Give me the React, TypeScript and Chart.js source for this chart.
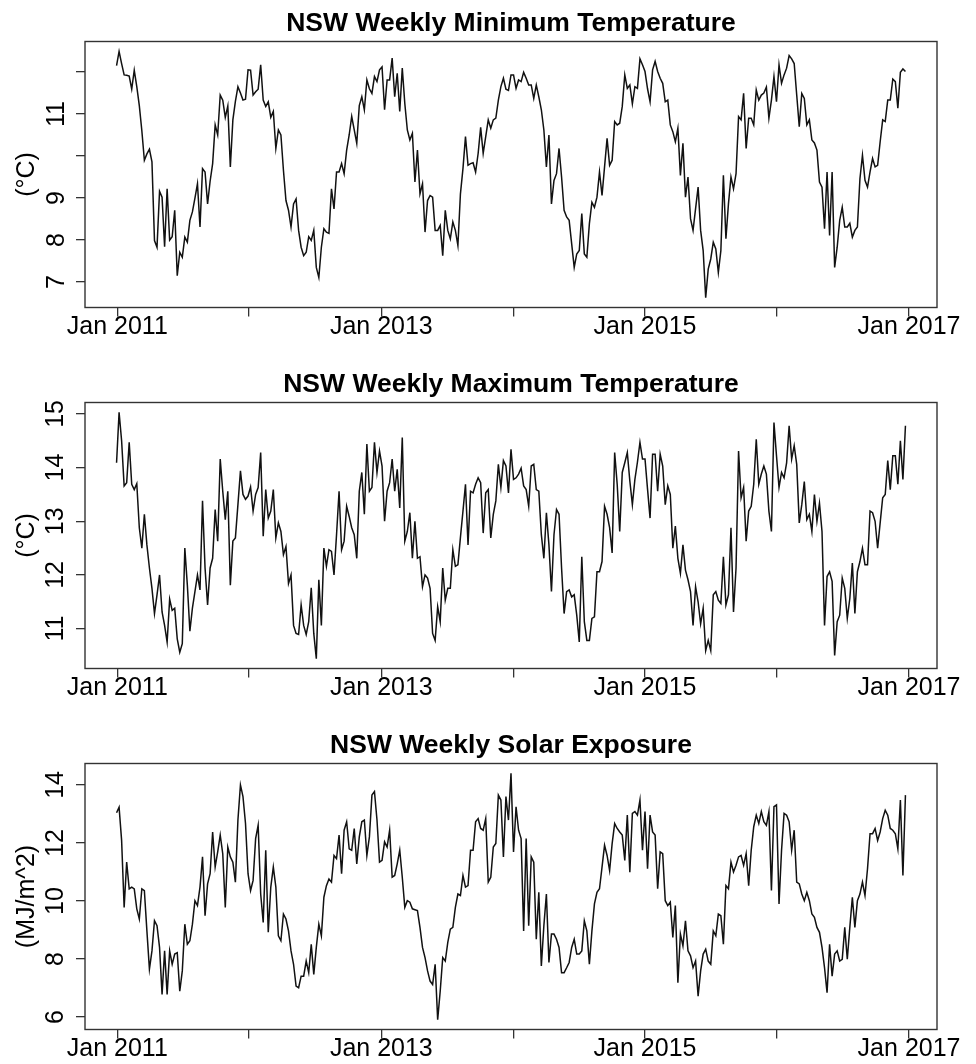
import React, { useEffect, useRef } from 'react';
import { Chart, registerables } from 'chart.js';

Chart.register(...registerables);

const FONT = '"Liberation Sans", Arial, Helvetica, sans-serif';

// Weekly NSW values, first week starting 30 Dec 2010
const MIN_TEMP = [
  12.15, 12.49, 12.2, 11.93, 11.92, 11.9, 11.59, 12.04, 11.65, 11.2,
  10.6, 9.9, 10.05, 10.16, 9.86, 7.99, 7.83, 9.16, 9.02, 7.84,
  9.22, 8.0, 8.08, 8.71, 7.15, 7.71, 7.59, 8.07, 7.95, 8.47,
  8.67, 9.0, 9.34, 8.31, 9.7, 9.62, 8.86, 9.4, 9.82, 10.74,
  10.5, 11.45, 11.33, 10.92, 11.19, 9.74, 10.86, 11.3, 11.65, 11.5,
  11.33, 11.35, 12.05, 12.04, 11.45, 11.53, 11.59, 12.17, 11.33, 11.18,
  11.29, 10.92, 11.06, 10.18, 10.62, 10.5, 9.66, 8.94, 8.71, 8.31,
  8.86, 8.98, 8.23, 7.83, 7.63, 7.71, 8.08, 7.99, 8.23, 7.35,
  7.11, 7.83, 8.27, 8.19, 8.16, 9.22, 8.74, 9.62, 9.62, 9.82,
  9.58, 10.14, 10.5, 10.94, 10.62, 10.3, 11.2, 11.41, 11.1, 11.81,
  11.6, 11.49, 11.89, 11.77, 12.05, 12.12, 11.1, 11.81, 11.81, 12.33,
  11.41, 11.97, 11.06, 12.09, 11.25, 10.62, 10.38, 10.54, 9.38, 10.14,
  9.1, 9.34, 8.19, 8.94, 9.06, 9.02, 8.23, 8.23, 8.35, 7.63,
  8.71, 8.23, 8.03, 8.43, 8.23, 7.87, 9.1, 9.7, 10.46, 9.78,
  9.82, 9.84, 9.62, 10.06, 10.68, 10.06, 10.46, 10.86, 10.66, 10.86,
  10.9, 11.33, 11.65, 11.85, 11.59, 11.56, 11.93, 11.93, 11.61, 11.81,
  11.77, 11.99, 11.85, 11.69, 11.69, 11.37, 11.69, 11.41, 11.1, 10.62,
  9.74, 10.5, 8.86, 9.42, 9.58, 10.18, 9.5, 8.71, 8.55, 8.47,
  7.91, 7.35, 7.67, 7.75, 8.63, 7.67, 7.59, 8.39, 8.9, 8.78,
  9.02, 9.62, 9.06, 9.74, 10.42, 9.78, 9.9, 10.82, 10.74, 10.78,
  11.18, 11.93, 11.61, 11.69, 11.24, 11.65, 11.61, 12.31, 12.17, 12.01,
  11.6, 11.29, 12.05, 12.25, 12.01, 11.85, 11.73, 11.29, 11.33, 10.74,
  10.58, 10.34, 10.66, 9.54, 10.3, 9.02, 9.5, 8.51, 8.23, 8.75,
  9.26, 8.23, 7.75, 6.63, 7.31, 7.55, 7.95, 7.79, 7.23, 7.75,
  9.54, 8.03, 8.86, 9.5, 9.22, 9.58, 10.94, 10.86, 11.49, 10.18,
  10.9, 10.9, 10.74, 11.57, 11.33, 11.45, 11.5, 11.64, 10.9, 11.33,
  11.89, 11.29, 12.17, 11.73, 11.93, 12.09, 12.39, 12.31, 12.2, 11.45,
  10.7, 11.49, 11.37, 10.74, 10.86, 10.38, 10.31, 10.14, 9.38, 9.26,
  8.27, 9.62, 8.11, 9.62, 7.35, 7.83, 8.47, 8.78, 8.31, 8.31,
  8.4, 8.07, 8.23, 8.31, 9.46, 10.02, 9.42, 9.26, 9.62, 9.94,
  9.74, 9.78, 10.34, 10.86, 10.82, 11.33, 11.33, 11.83, 11.77, 11.14,
  11.99, 12.07, 12.01,
];

const MAX_TEMP = [
  14.09, 15.03, 14.5, 13.66, 13.72, 14.47, 13.69, 13.59, 13.7, 12.88,
  12.5, 13.13, 12.56, 12.13, 11.75, 11.28, 11.63, 12.0, 11.31, 11.06,
  10.75, 11.55, 11.34, 11.38, 10.81, 10.56, 10.72, 12.5, 11.81, 10.95,
  11.38, 11.69, 12.0, 11.72, 13.38, 12.13, 11.44, 12.13, 12.31, 13.22,
  12.63, 14.16, 13.56, 13.03, 13.56, 11.81, 12.63, 12.69, 13.31, 13.94,
  13.5, 13.41, 13.47, 13.64, 13.19, 13.5, 13.63, 14.28, 12.72, 13.59,
  13.06, 13.19, 13.59, 12.69, 12.97, 12.81, 12.38, 12.53, 11.84, 12.0,
  11.06, 10.91, 10.89, 11.44, 11.06, 10.89, 11.13, 11.76, 10.91, 10.44,
  11.91, 11.06, 12.5, 12.16, 12.47, 12.44, 12.0, 12.75, 13.56, 12.47,
  12.63, 13.28, 13.09, 12.88, 12.75, 12.31, 13.56, 13.91, 13.13, 14.44,
  13.56, 13.63, 14.47, 13.91, 14.31, 14.03, 13.0, 13.56, 13.72, 14.16,
  13.56, 13.97, 13.25, 14.56, 12.63, 12.81, 13.16, 12.31, 13.0, 12.31,
  12.34, 11.78, 12.0, 11.94, 11.75, 10.91, 10.78, 11.41, 11.13, 12.13,
  11.53, 11.75, 11.75, 12.47, 12.16, 12.19, 12.7, 13.19, 13.69, 12.56,
  13.56, 13.53, 13.69, 13.81, 13.72, 12.78, 13.53, 13.59, 12.69, 13.13,
  13.38, 14.06, 13.63, 14.13, 14.03, 13.53, 14.34, 13.78, 13.81, 13.88,
  13.99, 13.66, 13.59, 13.28, 14.03, 14.06, 13.59, 13.56, 12.75, 12.31,
  13.16, 12.56, 11.69, 12.75, 13.22, 13.13, 12.13, 11.28, 11.69, 11.72,
  11.59, 11.63, 11.25, 10.75, 12.34, 11.13, 10.78, 10.78, 11.19, 11.22,
  12.06, 12.06, 12.25, 13.28, 13.13, 12.88, 12.41, 14.28, 13.69, 12.81,
  13.91, 14.09, 14.28, 13.75, 13.31, 13.78, 14.1, 14.47, 14.16, 14.16,
  13.6, 13.06, 14.25, 14.25, 13.56, 14.25, 14.03, 13.31, 13.66, 13.5,
  12.5, 12.91, 12.31, 12.03, 12.56, 12.09, 11.91, 11.69, 11.06, 11.78,
  11.5, 11.09, 11.38, 10.59, 10.78, 10.59, 11.63, 11.69, 11.53, 11.47,
  12.34, 11.44, 11.63, 12.88, 11.31, 12.13, 14.31, 13.44, 13.63, 12.63,
  13.19, 13.28, 13.69, 14.53, 13.69, 13.88, 14.03, 13.88, 13.19, 12.81,
  14.84, 14.22, 13.63, 13.91, 13.81, 14.09, 14.78, 14.16, 14.41, 14.06,
  12.97, 13.31, 13.74, 13.03, 13.13, 12.81, 13.5, 13.0, 13.34, 12.81,
  11.06, 11.97, 12.06, 11.88, 10.5, 11.13, 11.25, 11.94, 11.75, 11.19,
  11.56, 12.22, 11.28, 12.06, 12.25, 12.5, 12.19, 12.19, 13.19, 13.16,
  13.0, 12.5, 12.97, 13.44, 13.5, 14.13, 13.59, 14.22, 14.22, 13.69,
  14.5, 13.78, 14.78,
];

const SOLAR = [
  13.04, 13.23, 12.09, 9.78, 11.34, 10.42, 10.48, 10.42, 9.73, 9.38,
  10.42, 10.36, 8.97, 7.65, 8.28, 9.32, 9.15, 8.4, 6.78, 8.28,
  6.78, 8.28, 7.82, 8.17, 8.22, 6.89, 7.59, 9.2, 8.51, 8.63,
  9.2, 10.01, 9.84, 10.48, 11.52, 9.49, 10.59, 10.94, 12.38, 11.17,
  11.69, 12.27, 11.63, 9.78, 11.86, 11.52, 11.34, 10.65, 12.79, 14.0,
  13.6, 12.67, 10.94, 10.36, 10.71, 12.15, 12.61, 10.24, 9.26, 11.75,
  8.92, 10.48, 11.17, 10.48, 8.8, 8.63, 9.55, 9.38, 8.97, 8.28,
  7.82, 7.07, 7.01, 7.41, 7.41, 7.93, 7.53, 8.51, 7.47, 8.4,
  9.2, 8.8, 10.13, 10.53, 10.76, 10.65, 11.57, 11.46, 12.27, 10.94,
  12.44, 12.73, 11.8, 11.75, 12.5, 11.28, 12.21, 12.73, 12.79, 11.57,
  12.21, 13.65, 13.77, 12.79, 11.34, 11.4, 12.04, 11.86, 12.44, 10.82,
  10.88, 11.28, 11.75, 10.82, 9.78, 10.01, 9.96, 9.73, 9.7, 9.67,
  9.09, 8.4, 8.05, 7.59, 7.24, 7.12, 7.82, 5.91, 6.89, 8.05,
  7.93, 8.57, 9.03, 9.09, 9.78, 10.24, 10.19, 10.88, 10.48, 10.53,
  11.75, 11.75, 12.73, 12.84, 12.5, 12.44, 12.84, 10.65, 10.82, 11.86,
  11.98, 13.65, 13.48, 11.52, 13.6, 12.79, 14.4, 11.69, 13.25, 12.44,
  12.15, 8.97, 12.15, 9.15, 11.52, 11.34, 8.68, 10.3, 7.76, 9.15,
  10.24, 7.88, 8.86, 8.86, 8.68, 8.4, 7.53, 7.53, 7.7, 7.88,
  8.4, 8.68, 8.17, 8.17, 8.28, 9.32, 8.97, 7.82, 8.97, 9.9,
  10.3, 10.42, 11.17, 11.92, 11.57, 11.05, 11.98, 12.67, 12.5, 12.38,
  12.27, 11.4, 12.96, 10.99, 13.02, 13.08, 12.96, 13.48, 11.75, 13.08,
  11.11, 12.96, 12.38, 12.27, 10.42, 11.69, 11.63, 10.01, 9.84, 9.96,
  8.74, 9.84, 7.18, 8.86, 8.45, 9.32, 8.28, 8.11, 7.7, 7.93,
  6.72, 7.59, 8.17, 8.34, 7.93, 7.82, 8.97, 8.8, 9.55, 9.49,
  8.51, 10.53, 10.42, 11.34, 11.0, 11.23, 11.52, 11.57, 11.23, 11.63,
  10.53, 11.75, 12.56, 12.96, 12.67, 13.08, 12.73, 12.61, 13.08, 10.36,
  13.25, 13.31, 9.9, 11.75, 13.02, 12.96, 12.73, 11.75, 12.44, 10.65,
  10.59, 10.24, 10.01, 10.3, 10.01, 9.55, 9.44, 9.09, 8.92, 8.4,
  7.7, 6.84, 8.51, 7.41, 8.17, 8.28, 7.93, 7.99, 9.09, 7.99,
  9.09, 10.13, 9.09, 10.01, 10.24, 10.65, 10.19, 11.11, 12.32, 12.32,
  12.5, 12.09, 12.38, 12.84, 13.13, 12.96, 12.5, 12.44, 12.32, 11.8,
  13.48, 10.88, 13.65,
];

// Days from 1 Jan 2011 of the first weekly value
const FIRST_DAY = -2;
// 1 Jan of 2011..2017, as days from 1 Jan 2011
const YEAR_TICKS = [0, 365, 731, 1096, 1461, 1826, 2192];
const YEAR_LABELS = ['Jan 2011', '', 'Jan 2013', '', 'Jan 2015', '', 'Jan 2017'];

const MIN_TICKS = [7, 8, 9, 10, 11, 12];
const MIN_TICK_LABELS = ['7', '8', '9', '', '11', ''];
const MAX_TICKS = [11, 12, 13, 14, 15];
const MAX_TICK_LABELS = ['11', '12', '13', '14', '15'];
const SOLAR_TICKS = [6, 8, 10, 12, 14];
const SOLAR_TICK_LABELS = ['6', '8', '10', '12', '14'];

const TITLES = [
  'NSW Weekly Minimum Temperature',
  'NSW Weekly Maximum Temperature',
  'NSW Weekly Solar Exposure',
];
const Y_LABELS = ['(°C)', '(°C)', '(MJ/m^2)'];

const W = 976;
const H = 342;
const PANEL_TOPS = [0, 361, 722];

const boxPlugin = {
  id: 'frameBox',
  afterDraw(chart: any) {
    const { ctx, chartArea: a } = chart;
    ctx.save();
    ctx.strokeStyle = '#333';
    ctx.lineWidth = 1.4;
    ctx.strokeRect(a.left, a.top, a.right - a.left, a.bottom - a.top);
    ctx.restore();
  },
};

function padRange(a: number[]): [number, number] {
  const lo = Math.min(...a);
  const hi = Math.max(...a);
  const d = (hi - lo) * 0.04;
  return [lo - d, hi + d];
}

function Panel(props: {
  title: string;
  yLabel: string;
  values: number[];
  yTicks: number[];
  yTickLabels: string[];
  top: number;
}) {
  const ref = useRef<HTMLCanvasElement>(null);
  useEffect(() => {
    const { title, yLabel, values, yTicks, yTickLabels } = props;
    const days = values.map((_, i) => FIRST_DAY + 7 * i);
    const [xMin, xMax] = padRange(days);
    const [yMin, yMax] = padRange(values);
    const tickFont = { family: FONT, size: 25, lineHeight: 1.2 };
    const chart = new Chart(ref.current as HTMLCanvasElement, {
      type: 'line',
      data: {
        datasets: [
          {
            data: values.map((v, i) => ({ x: days[i], y: v })),
            borderColor: '#111',
            borderWidth: 1.5,
            pointRadius: 0,
            tension: 0,
            fill: false,
          },
        ],
      },
      options: {
        animation: false,
        responsive: false,
        maintainAspectRatio: false,
        events: [],
        layout: { padding: { left: 0, right: 39, top: 0, bottom: 0 }, autoPadding: false },
        plugins: {
          legend: { display: false },
          tooltip: { enabled: false },
          title: {
            display: true,
            text: title,
            fullSize: false,
            color: '#000',
            font: { family: FONT, size: 26.5, weight: 'bold', lineHeight: 1.2 },
            padding: { top: 7.8, bottom: 1.9 },
          },
        },
        scales: {
          x: {
            type: 'linear',
            position: 'bottom',
            min: xMin,
            max: xMax,
            afterBuildTicks: (s: any) => {
              s.ticks = YEAR_TICKS.map((v) => ({ value: v }));
            },
            afterFit: (s: any) => {
              s.height = H - 307.5;
            },
            ticks: {
              autoSkip: false,
              maxRotation: 0,
              minRotation: 0,
              padding: -4,
              color: '#000',
              font: tickFont,
              callback: (_v: any, i: number) => YEAR_LABELS[i],
            },
            grid: { drawOnChartArea: false, drawTicks: true, tickLength: 9, color: '#333', lineWidth: 1.3 },
            border: { display: false },
          },
          y: {
            type: 'linear',
            position: 'left',
            min: yMin,
            max: yMax,
            afterBuildTicks: (s: any) => {
              s.ticks = yTicks.map((v) => ({ value: v }));
            },
            afterFit: (s: any) => {
              s.width = 85;
            },
            ticks: {
              autoSkip: false,
              minRotation: 90,
              maxRotation: 90,
              crossAlign: 'center',
              padding: 6,
              color: '#000',
              font: tickFont,
              callback: (_v: any, i: number) => yTickLabels[i],
            },
            title: {
              display: true,
              text: yLabel,
              color: '#000',
              font: tickFont,
              padding: { top: 12, bottom: 0 },
            },
            grid: { drawOnChartArea: false, drawTicks: true, tickLength: 9, color: '#333', lineWidth: 1.3 },
            border: { display: false },
          },
        },
      } as any,
      plugins: [boxPlugin],
    });
    return () => chart.destroy();
  }, []);
  return (
    <canvas
      ref={ref}
      width={W}
      height={H}
      style={{ position: 'absolute', left: 0, top: props.top, width: W, height: H }}
    />
  );
}

export default function App() {
  return (
    <div style={{ position: 'absolute', left: 0, top: 0, width: W, height: 1064, background: '#fff' }}>
      <Panel title={TITLES[0]} yLabel={Y_LABELS[0]} values={MIN_TEMP} yTicks={MIN_TICKS} yTickLabels={MIN_TICK_LABELS} top={PANEL_TOPS[0]} />
      <Panel title={TITLES[1]} yLabel={Y_LABELS[1]} values={MAX_TEMP} yTicks={MAX_TICKS} yTickLabels={MAX_TICK_LABELS} top={PANEL_TOPS[1]} />
      <Panel title={TITLES[2]} yLabel={Y_LABELS[2]} values={SOLAR} yTicks={SOLAR_TICKS} yTickLabels={SOLAR_TICK_LABELS} top={PANEL_TOPS[2]} />
    </div>
  );
}
